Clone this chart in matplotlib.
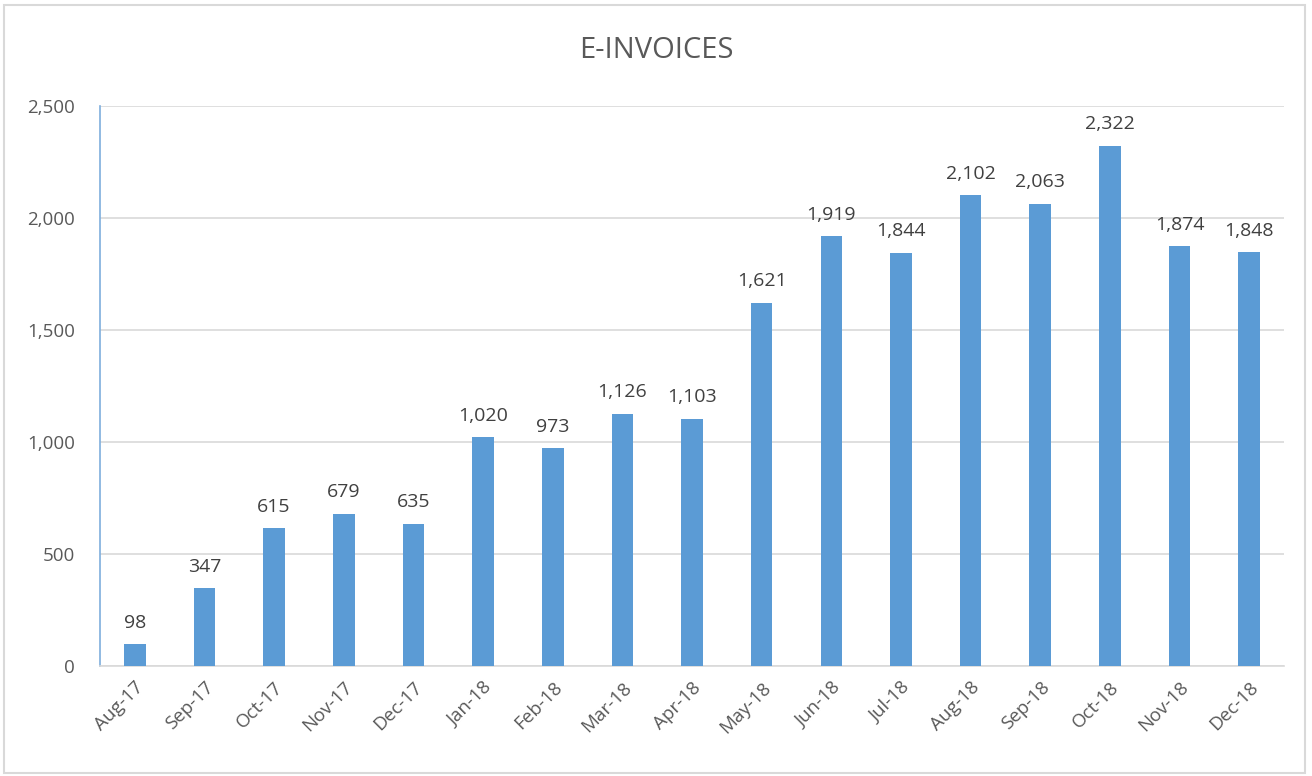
import matplotlib.pyplot as plt
from matplotlib.patches import Rectangle
from matplotlib.ticker import FuncFormatter

months = ["Aug-17", "Sep-17", "Oct-17", "Nov-17", "Dec-17", "Jan-18", "Feb-18",
          "Mar-18", "Apr-18", "May-18", "Jun-18", "Jul-18", "Aug-18", "Sep-18",
          "Oct-18", "Nov-18", "Dec-18"]
invoices = [98, 347, 615, 679, 635, 1020, 973, 1126, 1103, 1621, 1919, 1844,
            2102, 2063, 2322, 1874, 1848]

plt.rcParams["font.family"] = ["Open Sans", "DejaVu Sans"]
text_col = "#595959"

fig = plt.figure(figsize=(13.12, 7.76), dpi=100)
fig.patches.append(Rectangle((0.003, 0.004), 0.992, 0.99, transform=fig.transFigure,
                             fill=False, edgecolor="#D9D9D9", linewidth=1.5))
ax = fig.add_axes([0.0762, 0.1418, 0.9025, 0.7216])

x = range(len(months))
bars = ax.bar(x, invoices, width=0.31, color="#5B9BD5", zorder=3)
for xi, v in zip(x, invoices):
    ax.annotate(f"{v:,}", (xi, v), xytext=(0, 9), textcoords="offset points",
                ha="center", va="bottom", fontsize=14, color="#404040")

ax.set_xlim(-0.5, len(months) - 0.5)
ax.set_ylim(0, 2500)
ax.set_yticks(range(0, 2501, 500))
ax.yaxis.set_major_formatter(FuncFormatter(lambda v, p: f"{int(v):,}"))
ax.set_xticks(list(x))
ax.set_xticklabels(months, rotation=45, ha="right", rotation_mode="anchor")
ax.tick_params(axis="both", length=0, labelsize=13.5, colors=text_col)
ax.tick_params(axis="y", pad=18)
ax.tick_params(axis="x", pad=9)
ax.grid(axis="y", color="#D9D9D9", linewidth=1.2, zorder=0)

for s in ["top", "right"]:
    ax.spines[s].set_visible(False)
ax.spines["left"].set_color("#7EAEDD")
ax.spines["left"].set_linewidth(1.2)
ax.spines["bottom"].set_color("#D9D9D9")
ax.spines["bottom"].set_linewidth(1.2)

fig.text(0.5, 0.935, "E-INVOICES", ha="center", va="center", fontsize=21, color=text_col)

plt.savefig("out.png", dpi=100)
